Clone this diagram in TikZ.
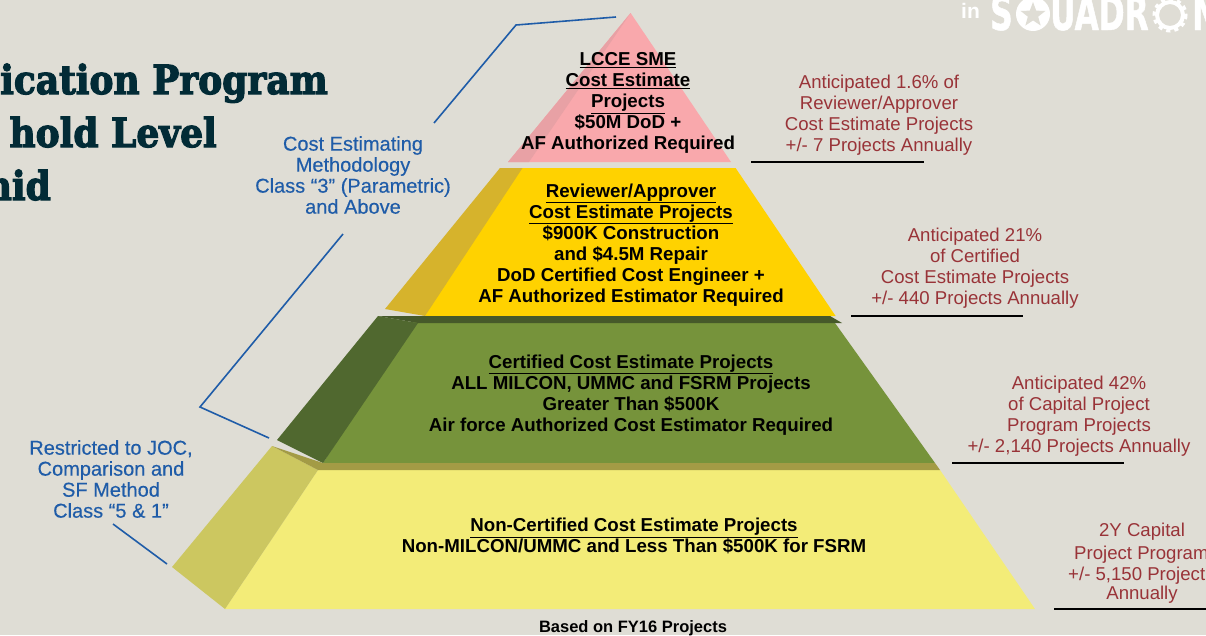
\documentclass[tikz,border=0pt]{standalone}
\usepackage{fontspec}
\setmainfont{Liberation Sans}
\newfontfamily\titlef[BoldFeatures={FakeBold=3,FakeStretch=.9}]{DejaVu Serif}
\newfontfamily\logof[BoldFeatures={FakeStretch=.65,FakeBold=1}]{DejaVu Sans}
\newfontfamily\bluef[FakeBold=.35]{Liberation Sans}
\usetikzlibrary{shapes.geometric}
\definecolor{bgc}{HTML}{DFDDD5}
\definecolor{pinkm}{HTML}{F9A8AC}
\definecolor{pinks}{HTML}{E8A1A5}
\definecolor{goldm}{HTML}{FFD200}
\definecolor{golds}{HTML}{D6B32C}
\definecolor{grnm}{HTML}{76933B}
\definecolor{grns}{HTML}{50682F}
\definecolor{grnt}{HTML}{46592A}
\definecolor{yelm}{HTML}{F3EC78}
\definecolor{yels}{HTML}{CCC760}
\definecolor{yelt}{HTML}{A39B45}
\definecolor{titlec}{HTML}{022B36}
\definecolor{bluec}{HTML}{1F5CA8}
\definecolor{redc}{HTML}{993338}
\tikzset{
  x=1pt,y=-1pt,
  tier/.style={font=\fontsize{18.7}{21}\selectfont\bfseries,align=center,text=black,inner sep=0pt},
  redtxt/.style={font=\fontsize{18.6}{21}\selectfont,align=center,text=redc,inner sep=0pt},
  bluetxt/.style={font=\fontsize{20}{21}\bluef,align=center,text=bluec,inner sep=0pt},
  titletxt/.style={font=\fontsize{40}{48}\titlef\bfseries,text=titlec,inner sep=0pt,anchor=base east},
  logotxt/.style={anchor=base west,inner sep=0pt,text=white,font=\fontsize{48}{48}\logof\bfseries},
  leader/.style={draw=bluec,line width=1.6pt},
  rule/.style={draw=black,line width=1.5pt},
}
\begin{document}
\begin{tikzpicture}
\useasboundingbox (0,0) rectangle (1206,635);
\clip (0,0) rectangle (1206,635);
\fill[bgc] (0,0) rectangle (1206,635);
% tiers
\fill[pinkm] (630.6,13) -- (731,162) -- (508,162) -- cycle;
\fill[pinks] (630.6,13) -- (529,162) -- (508,162) -- cycle;
\fill[goldm] (500,168) -- (735.6,168) -- (835.6,316) -- (425,316) -- cycle;
\fill[golds] (500,168) -- (522.5,168) -- (425,316) -- (385,309) -- cycle;
\fill[grnm] (418,316) -- (830,316) -- (935,463) -- (323,463) -- cycle;
\fill[grnt] (378,316) -- (830,316) -- (842,323) -- (418,323) -- cycle;
\fill[grns] (378,316) -- (418,323) -- (323,463) -- (277,440) -- cycle;
\fill[yelm] (318,470) -- (940,470) -- (1035,609) -- (225,609) -- cycle;
\fill[yels] (272,446) -- (318,470) -- (225,609) -- (172,567) -- cycle;
\fill[yelt] (272,446) -- (323,463) -- (935,463) -- (940,470) -- (318,470) -- cycle;
% logo
\node[anchor=base west,inner sep=0pt,text=white,font=\fontsize{21}{21}\selectfont\bfseries] (logoin) at (961,18) {in};
\node[logotxt] (logos) at (990,30) {S};
\node[circle,fill=white,minimum size=34pt,inner sep=0pt] (logostar) at (1033,14) {};
\node[star,star points=5,star point ratio=2.4,fill=bgc,minimum size=26pt,inner sep=0pt] (logostarb) at (1033,15) {};
\node[logotxt] (logou) at (1050,30) {UADR};
\node[circle,draw=white,line width=4pt,minimum size=26pt,inner sep=0pt] (logogear) at (1170,15) {};
\draw[white,line width=4pt,dash pattern=on 4pt off 4pt] (1170,15) circle (15.5);
\node[logotxt] (logon) at (1192,30) {N};
% title
\node[titletxt] (t1) at (328,94) {ication Program};
\node[titletxt] (t2) at (217,147) {hold Level};
\node[titletxt] (t3) at (51,200) {nid};
% tier text
\node[tier] (a) at (628,103) {\underline{LCCE SME}\\\underline{Cost Estimate}\\\underline{Projects}\\\$50M DoD +\\AF Authorized Required};
\node[tier] (b) at (631,245) {\underline{Reviewer/Approver}\\\underline{Cost Estimate Projects}\\\$900K Construction\\and \$4.5M Repair\\DoD Certified Cost Engineer +\\AF Authorized Estimator Required};
\node[tier] (c) at (631,395) {\underline{Certified Cost Estimate Projects}\\ALL MILCON, UMMC and FSRM Projects\\Greater Than \$500K\\Air force Authorized Cost Estimator Required};
\node[tier] (d) at (634,536) {\underline{Non-Certified Cost Estimate Projects}\\Non-MILCON/UMMC and Less Than \$500K for FSRM};
\node[tier,font=\fontsize{16.5}{19}\selectfont\bfseries] (e) at (633,628) {Based on FY16 Projects};
% red text
\node[redtxt] (r1) at (879,115) {Anticipated 1.6\% of\\Reviewer/Approver\\Cost Estimate Projects\\+/- 7 Projects Annually};
\node[redtxt] (r2) at (975,268) {Anticipated 21\%\\of Certified\\Cost Estimate Projects\\+/- 440 Projects Annually};
\node[redtxt] (r3) at (1079,416) {Anticipated 42\%\\of Capital Project\\Program Projects\\+/- 2,140 Projects Annually};
\node[redtxt,anchor=center] (r4a) at (1142,532) {2Y Capital};
\node[redtxt,anchor=base west] (r4b) at (1074,559) {Project Program};
\node[redtxt,anchor=base west] (r4c) at (1068,580) {+/- 5,150 Project};
\node[redtxt,anchor=center] (r4d) at (1142,595) {Annually};
% blue text
\node[bluetxt] (b1) at (353,175) {Cost Estimating\\Methodology\\Class “3” (Parametric)\\and Above};
\node[bluetxt] (b2) at (111,479) {Restricted to JOC,\\Comparison and\\SF Method\\Class “5 \& 1”};
% leaders
\coordinate (l1a) at (616,17); \coordinate (l1b) at (516,25); \coordinate (l1c) at (434,123);
\coordinate (l2a) at (343,234); \coordinate (l2b) at (200,407); \coordinate (l2c) at (269,438);
\coordinate (l3a) at (113,524); \coordinate (l3b) at (167,564);
\draw[leader] (l1a) -- (l1b) -- (l1c);
\draw[leader] (l2a) -- (l2b) -- (l2c);
\draw[leader] (l3a) -- (l3b);
% rules
\coordinate (u1a) at (751,162); \coordinate (u1b) at (924,162);
\coordinate (u2a) at (851,316); \coordinate (u2b) at (1023,316);
\coordinate (u3a) at (952,463); \coordinate (u3b) at (1124,463);
\coordinate (u4a) at (1054,609); \coordinate (u4b) at (1206,609);
\draw[rule] (u1a) -- (u1b);
\draw[rule] (u2a) -- (u2b);
\draw[rule] (u3a) -- (u3b);
\draw[rule] (u4a) -- (u4b);
\end{tikzpicture}
\end{document}
